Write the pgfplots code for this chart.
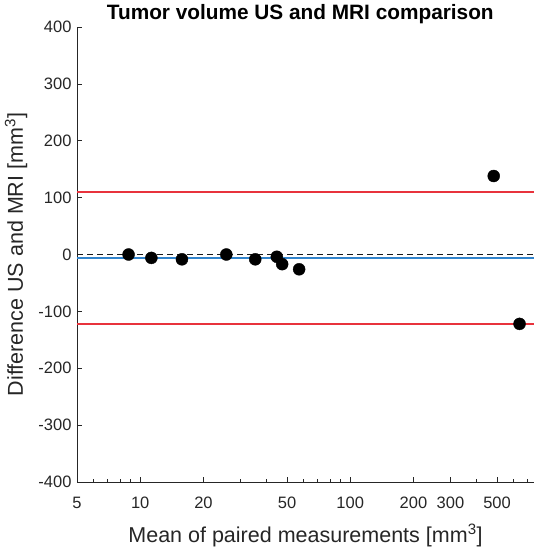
\documentclass[border=0pt]{standalone}
\usepackage{pgfplots}
\pgfplotsset{compat=1.18}
\usepackage{fontspec}
\setmainfont{Liberation Sans}
\definecolor{axisgray}{RGB}{38,38,38}
\definecolor{limred}{RGB}{232,50,60}
\definecolor{meanblue}{RGB}{50,132,204}
\begin{document}
\begin{tikzpicture}
\begin{axis}[
    scale only axis,
    width=457pt, height=455pt,
    xmode=log,
    xmin=5, xmax=750,
    ymin=-400, ymax=400,
    axis x line*=bottom,
    axis y line*=left,
    axis line style={axisgray, line width=0.6pt},
    tick align=inside,
    tick style={axisgray, line width=0.6pt},
    major tick length=5pt,
    minor tick length=3pt,
    xtick={5,10,20,50,100,200,300,500},
    xticklabels={5,10,20,50,100,200,300,500},
    minor xtick={6,7,8,9,30,40,60,70,80,90,400,600,700},
    ytick={-400,-300,...,400},
    /pgf/number format/assume math mode=true,
    ticklabel style={font=\fontsize{16.5}{19}\selectfont, text=axisgray},
    xticklabel style={anchor=base, yshift=-26pt},
    yticklabel style={anchor=east, xshift=-2pt},
    every axis title shift=0pt,
    title={\textbf{Tumor volume US and MRI comparison}},
    title style={font=\fontsize{20.8}{24}\selectfont, at={(axis description cs:0.4886,1.0154)}, anchor=base},
    xlabel={Mean of paired measurements [mm\textsuperscript{3}]},
    ylabel={Difference US and MRI [mm\textsuperscript{3}]},
    label style={font=\fontsize{21.5}{25}\selectfont, text=axisgray},
    xlabel style={at={(axis description cs:0.5,-0.1319)}, anchor=base},
    ylabel style={at={(axis description cs:-0.1182,0.5)}, anchor=base},
    clip=false,
]
\addplot[limred, line width=1.5pt] coordinates {(5,110) (750,110)};
\addplot[limred, line width=1.5pt] coordinates {(5,-122) (750,-122)};
\addplot[meanblue, line width=1.5pt] coordinates {(5,-6) (750,-6)};
\addplot[black!90, line width=1.5pt, dash pattern=on 6pt off 4pt] coordinates {(5,0) (750,0)};
\addplot[only marks, mark=*, mark size=6pt, black] coordinates {
    (8.8,0) (11.3,-6) (15.8,-8.5) (25.7,0) (35.3,-8.5)
    (44.7,-4) (47.4,-17) (57.1,-26) (482,138) (640,-122)
};
\coordinate (sw) at (rel axis cs:0,0);
\coordinate (ne) at (rel axis cs:1,1);
\end{axis}
\pgfresetboundingbox
\path[use as bounding box] ([xshift=-77pt,yshift=-67pt]sw) rectangle ([yshift=27pt]ne);
\end{tikzpicture}
\end{document}
